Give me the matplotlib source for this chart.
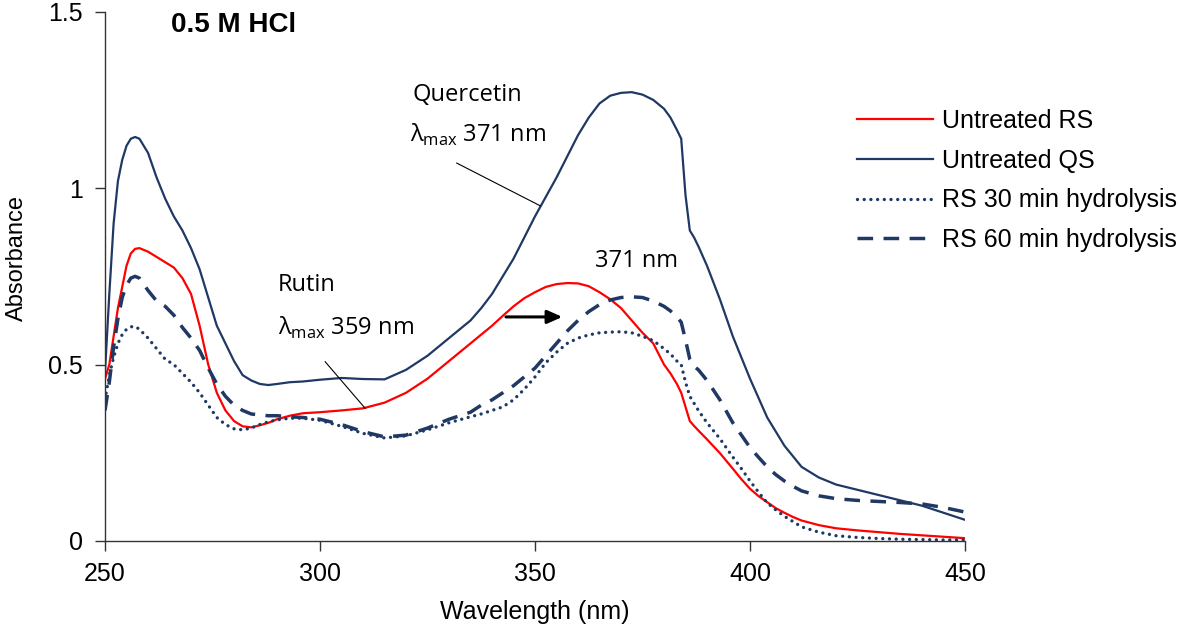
import matplotlib
matplotlib.use("Agg")
import matplotlib.pyplot as plt

# ---------- данные ----------
wavelength = [250, 251, 252, 253, 254, 255, 256, 257, 258, 260, 262, 264, 266, 268,
              270, 272, 274, 276, 278, 280, 282, 284, 286, 288, 290, 293, 296, 300,
              305, 310, 315, 320, 325, 330, 335, 337.5, 340, 342.5, 345, 347.5, 350,
              352.5, 355, 357.5, 360, 362.5, 365, 367.5, 370, 372.5, 375, 377.5, 380,
              381.5, 383, 384, 385, 386, 387, 388, 390, 393, 396, 398, 400, 402, 404,
              406, 408, 410, 412, 416, 420, 425, 430, 435, 440, 445, 450]

untreated_rs = [0.46, 0.50, 0.58, 0.66, 0.72, 0.78, 0.815, 0.828, 0.83, 0.82, 0.805, 0.79,
                0.775, 0.745, 0.70, 0.61, 0.50, 0.42, 0.37, 0.34, 0.325, 0.322, 0.328,
                0.335, 0.345, 0.355, 0.362, 0.365, 0.370, 0.376, 0.392, 0.42, 0.46, 0.51,
                0.56, 0.585, 0.61, 0.638, 0.665, 0.688, 0.705, 0.72, 0.728, 0.731, 0.73,
                0.722, 0.705, 0.685, 0.66, 0.625, 0.59, 0.56, 0.50, 0.475, 0.445, 0.42,
                0.38, 0.34, 0.326, 0.313, 0.288, 0.249, 0.205, 0.175, 0.148, 0.127, 0.11,
                0.093, 0.08, 0.068, 0.058, 0.045, 0.036, 0.03, 0.025, 0.02, 0.016, 0.012,
                0.008]

untreated_qs = [0.48, 0.70, 0.90, 1.02, 1.08, 1.12, 1.14, 1.145, 1.14, 1.10, 1.03, 0.97,
                0.92, 0.88, 0.83, 0.77, 0.69, 0.61, 0.56, 0.51, 0.47, 0.455, 0.445, 0.442,
                0.445, 0.450, 0.452, 0.457, 0.462, 0.459, 0.458, 0.485, 0.525, 0.575,
                0.625, 0.66, 0.70, 0.75, 0.80, 0.86, 0.92, 0.975, 1.03, 1.09, 1.15, 1.20,
                1.24, 1.262, 1.27, 1.272, 1.265, 1.25, 1.225, 1.20, 1.165, 1.14, 0.98,
                0.88, 0.86, 0.835, 0.78, 0.685, 0.58, 0.52, 0.46, 0.405, 0.35, 0.31, 0.27,
                0.24, 0.21, 0.18, 0.16, 0.145, 0.13, 0.115, 0.10, 0.08, 0.06]

rs_30min = [0.40, 0.47, 0.52, 0.56, 0.585, 0.60, 0.607, 0.608, 0.60, 0.575, 0.545, 0.515,
            0.50, 0.475, 0.45, 0.42, 0.385, 0.35, 0.33, 0.318, 0.315, 0.32, 0.33, 0.338,
            0.343, 0.348, 0.348, 0.342, 0.325, 0.305, 0.292, 0.298, 0.315, 0.335, 0.352,
            0.36, 0.37, 0.38, 0.40, 0.43, 0.465, 0.505, 0.535, 0.56, 0.575, 0.584,
            0.59, 0.592, 0.593, 0.59, 0.58, 0.568, 0.545, 0.53, 0.51, 0.50, 0.45, 0.41,
            0.39, 0.37, 0.335, 0.29, 0.238, 0.205, 0.17, 0.138, 0.108, 0.088, 0.07,
            0.055, 0.04, 0.025, 0.015, 0.01, 0.007, 0.005, 0.004, 0.003, 0.003]

rs_60min = [0.37, 0.45, 0.55, 0.63, 0.69, 0.725, 0.745, 0.75, 0.745, 0.71, 0.68, 0.665,
            0.64, 0.605, 0.575, 0.54, 0.49, 0.445, 0.41, 0.385, 0.37, 0.36, 0.357, 0.355,
            0.355, 0.352, 0.35, 0.345, 0.33, 0.31, 0.295, 0.30, 0.32, 0.345, 0.365,
            0.385, 0.40, 0.42, 0.44, 0.465, 0.49, 0.525, 0.56, 0.595, 0.625, 0.65,
            0.67, 0.683, 0.69, 0.692, 0.69, 0.68, 0.665, 0.652, 0.635, 0.62, 0.57,
            0.515, 0.495, 0.485, 0.455, 0.40, 0.335, 0.30, 0.265, 0.237, 0.21, 0.188,
            0.17, 0.155, 0.142, 0.128, 0.12, 0.115, 0.112, 0.109, 0.105, 0.095, 0.082]

x_ticks = [250, 300, 350, 400, 450]
y_ticks = [0, 0.5, 1, 1.5]
y_tick_labels = ["0", "0.5", "1", "1.5"]

NAVY = "#1F3864"
RED = "#FF0000"

plt.rcParams["font.family"] = ["Liberation Sans", "DejaVu Sans"]
plt.rcParams["mathtext.fontset"] = "custom"
plt.rcParams["mathtext.rm"] = "Open Sans"

fig = plt.figure(figsize=(11.8, 6.26), dpi=100)
ax = fig.add_axes([0.089, 0.1358, 0.7288, 0.8455])

ax.plot(wavelength, untreated_rs, color=RED, lw=1.6, label="Untreated RS")
ax.plot(wavelength, untreated_qs, color=NAVY, lw=1.6, label="Untreated QS")
ax.plot(wavelength, rs_30min, color=NAVY, lw=2.4, linestyle=(0, (0.01, 2.0)),
        dash_capstyle="round", label="RS 30 min hydrolysis")
ax.plot(wavelength, rs_60min, color=NAVY, lw=2.5, linestyle=(0, (4.5, 3.0)),
        label="RS 60 min hydrolysis")

ax.set_xlim(250, 450)
ax.set_ylim(0, 1.5)
ax.set_xticks(x_ticks)
ax.set_yticks(y_ticks)
ax.set_yticklabels(y_tick_labels)
ax.tick_params(direction="out", length=7, width=1, labelsize=18, color="#333333")
ax.tick_params(axis="y", pad=9)
ax.tick_params(axis="x", pad=8)
for side in ["top", "right"]:
    ax.spines[side].set_visible(False)
for side in ["left", "bottom"]:
    ax.spines[side].set_color("#333333")
    ax.spines[side].set_linewidth(1)

ax.set_xlabel("Wavelength (nm)", fontsize=18, labelpad=10)
ax.set_ylabel("Absorbance", fontsize=17)
ax.yaxis.set_label_coords(-0.09, 0.535)

# подписи
ann_font = ["Open Sans", "DejaVu Sans"]
ax.text(265.4, 1.463, "0.5 M HCl", fontsize=20, fontweight="bold", va="center")
ax.text(321.4, 1.265, "Quercetin", fontsize=17, va="center", family=ann_font)
ax.text(320.9, 1.151, "λ$_{\\mathrm{max}}$ 371 nm", fontsize=17, va="center", family=ann_font)
ax.text(290.2, 0.726, "Rutin", fontsize=17, va="center", family=ann_font)
ax.text(290.2, 0.604, "λ$_{\\mathrm{max}}$ 359 nm", fontsize=17, va="center", family=ann_font)
ax.text(373.5, 0.794, "371 nm", fontsize=17, va="center", ha="center", family=ann_font)

ax.plot([331.8, 351.2], [1.071, 0.950], color="black", lw=0.8)
ax.plot([301.2, 310.5], [0.508, 0.376], color="black", lw=0.8)
ax.annotate("", xy=(357.0, 0.635), xytext=(342.6, 0.635),
            arrowprops=dict(arrowstyle="-|>,head_length=0.9,head_width=0.4",
                            color="black", lw=2.2))

ax.legend(loc="upper left", bbox_to_anchor=(0.7263, 0.826), bbox_transform=fig.transFigure,
          frameon=False, fontsize=18, handlelength=3.05, handletextpad=0.36,
          labelspacing=0.63, borderpad=0, borderaxespad=0)

fig.savefig("out.png", dpi=100)
